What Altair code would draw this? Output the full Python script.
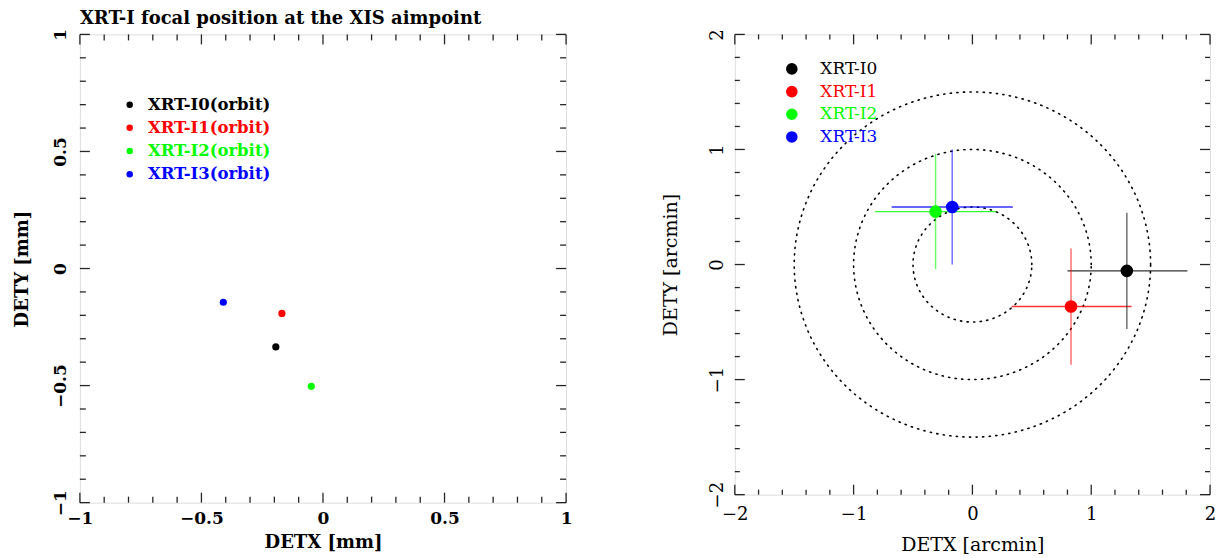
import altair as alt
import numpy as np
import pandas as pd

# ---------------- data ----------------
names = ["XRT-I0", "XRT-I1", "XRT-I2", "XRT-I3"]
colors = ["#000000", "#ff0000", "#00ff00", "#0000ff"]
left_labels = ["XRT-I0(orbit)", "XRT-I1(orbit)", "XRT-I2(orbit)", "XRT-I3(orbit)"]

# left panel: focal position in mm
mm_x = [-0.194, -0.169, -0.048, -0.410]
mm_y = [-0.335, -0.192, -0.503, -0.144]

# right panel: focal position in arcmin, with error ranges
am_x = [1.30, 0.83, -0.31, -0.17]
am_y = [-0.055, -0.365, 0.46, 0.50]
am_x_lo = [0.80, 0.33, -0.82, -0.68]
am_x_hi = [1.81, 1.34, 0.20, 0.34]
am_y_lo = [-0.56, -0.87, -0.04, 0.00]
am_y_hi = [0.45, 0.14, 0.96, 1.00]

ring_radii = [0.5, 1.0, 1.5]

left_major = [-1, -0.5, 0, 0.5, 1]
left_minor = [-0.9, -0.8, -0.7, -0.6, -0.4, -0.3, -0.2, -0.1,
              0.1, 0.2, 0.3, 0.4, 0.6, 0.7, 0.8, 0.9]
right_major = [-2, -1, 0, 1, 2]
right_minor = [-1.8, -1.6, -1.4, -1.2, -0.8, -0.6, -0.4, -0.2,
               0.2, 0.4, 0.6, 0.8, 1.2, 1.4, 1.6, 1.8]

# ---------------- layout ----------------
L_W, L_H = 487, 469
R_W, R_H = 476, 461

color_scale = alt.Scale(domain=names, range=colors)


def tick_tables(major, minor, xdom, ydom, W, H, maj_px, min_px):
    vrows, hrows = [], []
    for vals, ln in ((major, maj_px), (minor, min_px)):
        lx = ln * (xdom[1] - xdom[0]) / W
        ly = ln * (ydom[1] - ydom[0]) / H
        for v in vals:
            vrows.append({"tx": v, "ty1": ydom[0], "ty2": ydom[0] + ly})
            vrows.append({"tx": v, "ty1": ydom[1], "ty2": ydom[1] - ly})
            hrows.append({"ty": v, "tx1": xdom[0], "tx2": xdom[0] + lx})
            hrows.append({"ty": v, "tx1": xdom[1], "tx2": xdom[1] - lx})
    return pd.DataFrame(vrows), pd.DataFrame(hrows)


def tick_layers(major, minor, XF, YF, xdom, ydom, W, H, maj_px, min_px):
    vdf, hdf = tick_tables(major, minor, xdom, ydom, W, H, maj_px, min_px)
    vt = alt.Chart(vdf).mark_rule(color="black", strokeWidth=1.3, opacity=0.85).encode(
        x=XF("tx"), y=YF("ty1"), y2="ty2:Q")
    ht = alt.Chart(hdf).mark_rule(color="black", strokeWidth=1.3, opacity=0.85).encode(
        y=YF("ty"), x=XF("tx1"), x2="tx2:Q")
    return [vt, ht]


# ---------------- left panel ----------------
lfont = "DejaVu Serif"
LDOM = [-1, 1]
lxs = alt.Scale(domain=LDOM, nice=False, zero=False)
lys = alt.Scale(domain=LDOM, nice=False, zero=False)
LXT, LYT = "DETX [mm]", "DETY [mm]"

lx_axis = alt.Axis(values=left_major, format="~g", labelFont=lfont,
                   labelFontWeight="bold", labelFontSize=17, labelColor="black",
                   labelPadding=8, titleFont=lfont, titleFontWeight="bold",
                   titleFontSize=18, titleColor="black", titlePadding=7,
                   labelFlush=False, grid=False, ticks=False, domain=False)
ly_axis = alt.Axis(values=left_major, format="~g", labelFont=lfont,
                   labelFontWeight="bold", labelFontSize=17, labelColor="black",
                   labelAngle=270, labelAlign="center", labelBaseline="bottom",
                   labelPadding=10, titleFont=lfont, titleFontWeight="bold",
                   titleFontSize=18, titleColor="black", titlePadding=20,
                   labelFlush=False, grid=False, ticks=False, domain=False)


def LX(f):
    return alt.X(f"{f}:Q", scale=lxs, title=LXT, axis=lx_axis)


def LY(f):
    return alt.Y(f"{f}:Q", scale=lys, title=LYT, axis=ly_axis)


left_df = pd.DataFrame({"name": names, "x": mm_x, "y": mm_y})
left_leg = pd.DataFrame({"name": names, "label": left_labels, "row": [0, 1, 2, 3]})

left_points = alt.Chart(left_df).mark_circle(size=52, opacity=1).encode(
    x=LX("x"), y=LY("y"),
    color=alt.Color("name:N", scale=color_scale, legend=None),
)

left_leg_dots = alt.Chart(left_leg).transform_calculate(
    lx="-0.795", ly="0.70 - 0.099 * datum.row"
).mark_circle(size=42, opacity=1).encode(
    x=LX("lx"), y=LY("ly"),
    color=alt.Color("name:N", scale=color_scale, legend=None),
)
left_leg_text = alt.Chart(left_leg).transform_calculate(
    lx="-0.72", ly="0.70 - 0.099 * datum.row"
).mark_text(align="left", baseline="middle", font=lfont, fontWeight="bold",
            fontSize=16.5).encode(
    x=LX("lx"), y=LY("ly"),
    text="label:N",
    color=alt.Color("name:N", scale=color_scale, legend=None),
)

left = alt.layer(
    *tick_layers(left_major, left_minor, LX, LY, LDOM, LDOM, L_W, L_H, 10, 6),
    left_points, left_leg_dots, left_leg_text,
).properties(
    width=L_W, height=L_H,
    title=alt.TitleParams("XRT-I focal position at the XIS aimpoint", anchor="start",
                          frame="group", font=lfont, fontWeight="bold", fontSize=18,
                          color="black", offset=1),
)

# ---------------- right panel ----------------
rfont = "DejaVu Serif"
RDOM = [-2, 2]
rxs = alt.Scale(domain=RDOM, nice=False, zero=False)
rys = alt.Scale(domain=RDOM, nice=False, zero=False)
RXT, RYT = "DETX [arcmin]", "DETY [arcmin]"

rx_axis = alt.Axis(values=right_major, format="~g", labelFont=rfont,
                   labelFontSize=18, labelColor="black", labelPadding=11,
                   titleFont=rfont, titleFontWeight="normal", titleFontSize=19,
                   titleColor="black", titlePadding=12, labelFlush=False,
                   grid=False, ticks=False, domain=False)
ry_axis = alt.Axis(values=right_major, format="~g", labelFont=rfont,
                   labelFontSize=18, labelColor="black", labelAngle=270,
                   labelAlign="center", labelBaseline="bottom", labelPadding=8,
                   titleFont=rfont, titleFontWeight="normal", titleFontSize=19,
                   titleColor="black", titlePadding=28, labelFlush=False,
                   grid=False, ticks=False, domain=False)


def RX(f):
    return alt.X(f"{f}:Q", scale=rxs, title=RXT, axis=rx_axis)


def RY(f):
    return alt.Y(f"{f}:Q", scale=rys, title=RYT, axis=ry_axis)


right_df = pd.DataFrame({"name": names, "x": am_x, "y": am_y,
                         "xlo": am_x_lo, "xhi": am_x_hi,
                         "ylo": am_y_lo, "yhi": am_y_hi})

ring_rows = []
for r in ring_radii:
    for a in np.arange(0, 361, 1.0):
        t = np.deg2rad(a)
        ring_rows.append({"r": r, "a": a, "x": r * np.cos(t), "y": r * np.sin(t)})
ring_df = pd.DataFrame(ring_rows)

rings = alt.Chart(ring_df).mark_line(color="black", strokeWidth=1.6,
                                     strokeDash=[1.2, 5.4], strokeCap="round").encode(
    x=RX("x"), y=RY("y"),
    detail="r:N",
    order="a:Q",
)

hbars = alt.Chart(right_df).mark_rule(strokeWidth=1.4, opacity=0.8).encode(
    x=RX("xlo"), x2="xhi:Q", y=RY("y"),
    color=alt.Color("name:N", scale=color_scale, legend=None),
)
vbars = alt.Chart(right_df).mark_rule(strokeWidth=1.4, opacity=0.6).encode(
    y=RY("ylo"), y2="yhi:Q", x=RX("x"),
    color=alt.Color("name:N", scale=color_scale, legend=None),
)

right_points = alt.Chart(right_df).mark_circle(size=160, opacity=1).encode(
    x=RX("x"), y=RY("y"),
    color=alt.Color("name:N", scale=color_scale, legend=None),
)

right_leg = pd.DataFrame({"name": names, "label": names, "row": [0, 1, 2, 3]})
right_leg_dots = alt.Chart(right_leg).transform_calculate(
    lx="-1.52", ly="1.70 - 0.197 * datum.row"
).mark_circle(size=135, opacity=1).encode(
    x=RX("lx"), y=RY("ly"),
    color=alt.Color("name:N", scale=color_scale, legend=None),
)
right_leg_text = alt.Chart(right_leg).transform_calculate(
    lx="-1.28", ly="1.70 - 0.197 * datum.row"
).mark_text(align="left", baseline="middle", font=rfont, fontSize=17).encode(
    x=RX("lx"), y=RY("ly"),
    text="label:N",
    color=alt.Color("name:N", scale=color_scale, legend=None),
)

right = alt.layer(
    *tick_layers(right_major, right_minor, RX, RY, RDOM, RDOM, R_W, R_H, 10, 5),
    rings, hbars, vbars, right_points, right_leg_dots, right_leg_text,
).properties(
    width=R_W, height=R_H,
    title=alt.TitleParams(" ", anchor="start", frame="group", font=lfont,
                          fontWeight="bold", fontSize=18, offset=1),
)

chart = alt.hconcat(left, right, spacing=88).properties(
    padding={"left": 5, "top": 0, "right": 5, "bottom": 0}
).configure_view(
    stroke="black", strokeWidth=1.6, strokeOpacity=0.85
).configure_axis(
    domain=False, ticks=False, grid=False
).configure(background="white")

chart.save("out.html", embed_options={"renderer": "svg", "actions": False})
